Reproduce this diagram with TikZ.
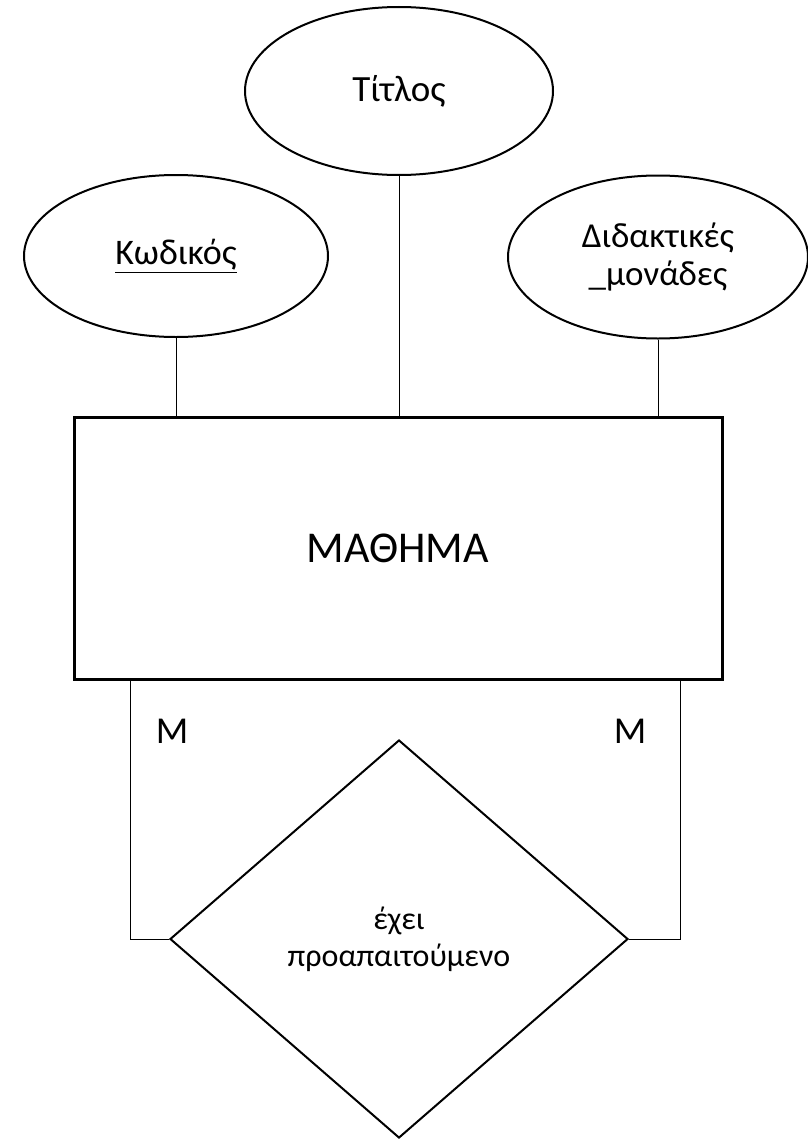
\documentclass[tikz,border=0pt]{standalone}
\usepackage{fontspec}
\setmainfont{Carlito}
\usetikzlibrary{shapes.geometric}
\begin{document}
\begin{tikzpicture}[x=1pt,y=-1pt,
  attr/.style={ellipse,draw,line width=2pt,inner sep=0pt,align=center,
    font=\fontsize{36}{38}\selectfont},
  entity/.style={rectangle,draw,line width=3pt,inner sep=0pt,
    minimum width=648pt,minimum height=262pt,font=\fontsize{44}{50}\selectfont},
  rel/.style={diamond,draw,line width=2pt,inner sep=0pt,align=center,
    minimum width=458pt,minimum height=398pt,font=\fontsize{32}{37}\selectfont},
  link/.style={line width=1pt},
  card/.style={font=\fontsize{38}{44}\selectfont,inner sep=0pt}]
\useasboundingbox (0,0) rectangle (807,1140);

% attributes
\node[attr,minimum width=308pt,minimum height=168pt,font=\fontsize{37}{40}\selectfont] (titlos) at (399,91) {Τίτλος};
\node[attr,minimum width=304pt,minimum height=162pt] (kodikos) at (176,256) {\underline{Κωδικός}};
\node[attr,minimum width=300pt,minimum height=163pt,font=\fontsize{35}{38}\selectfont] (monades) at (658,257) {Διδακτικές\\\_μονάδες};

% entity
\node[entity] (mathima) at (398,548) {ΜΑΘΗΜΑ};

% relationship
\node[rel] (exei) at (399,939) {έχει\\προαπαιτούμενο};

% attribute links
\draw[link] (kodikos.south) -- (kodikos.south |- mathima.north);
\draw[link] (titlos.south) -- (titlos.south |- mathima.north);
\draw[link] (monades.south) -- (monades.south |- mathima.north);

% relationship links
\coordinate (lt) at (130,679);
\coordinate (rt) at (680,679);
\draw[link] (lt) |- (exei.west);
\draw[link] (rt) |- (exei.east);

% cardinalities
\node[card] (m1) at (172,731) {Μ};
\node[card] (m2) at (630,731) {Μ};
\end{tikzpicture}
\end{document}
